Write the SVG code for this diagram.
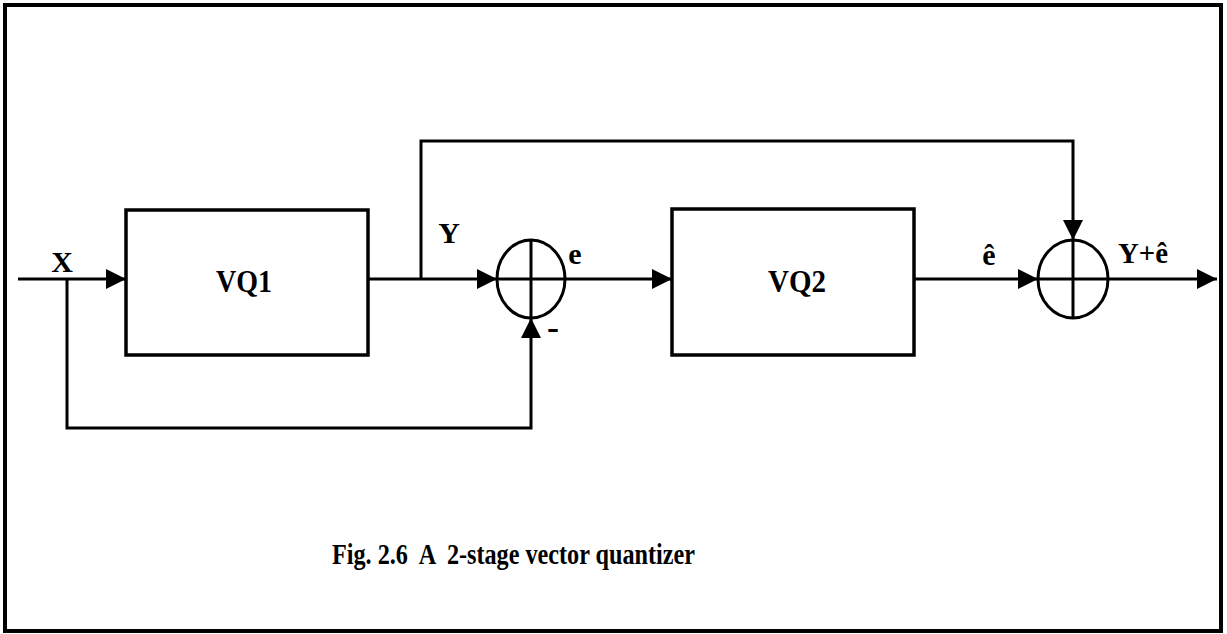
<svg xmlns="http://www.w3.org/2000/svg" width="1227" height="634" viewBox="0 0 1227 634">
<style>
.ln{fill:none;stroke:#000;stroke-width:3;}
.bx{fill:#fff;stroke:#000;stroke-width:3.5;}
.t{font-family:"Liberation Serif","Times New Roman",serif;font-weight:bold;fill:#000;}
</style>
<defs>
<marker id="ah" markerUnits="userSpaceOnUse" markerWidth="22" markerHeight="22" refX="20" refY="10" orient="auto">
<path d="M0,0 L20,10 L0,20 Z" fill="#000"/>
</marker>
</defs>
<rect x="0" y="0" width="1227" height="634" fill="#fff"/>
<rect x="5" y="5" width="1216" height="626" fill="none" stroke="#000" stroke-width="4"/>
<g id="connectors">
<path class="ln" d="M18,279 L126,279" marker-end="url(#ah)"/>
<path class="ln" d="M67,279 L67,428 L531,428 L531,318" marker-end="url(#ah)"/>
<path class="ln" d="M368,279 L497,279" marker-end="url(#ah)"/>
<path class="ln" d="M421,279 L421,141 L1073,141 L1073,240" marker-end="url(#ah)"/>
<path class="ln" d="M565,279 L672,279" marker-end="url(#ah)"/>
<path class="ln" d="M914,279 L1038,279" marker-end="url(#ah)"/>
<path class="ln" d="M1108,279 L1217,279" marker-end="url(#ah)"/>
</g>
<g id="vq1">
<rect class="bx" x="126" y="210" width="242" height="145"/>
<text class="t" x="244" y="292" font-size="31" text-anchor="middle" textLength="56" lengthAdjust="spacingAndGlyphs">VQ1</text>
</g>
<g id="vq2">
<rect class="bx" x="672" y="209" width="242" height="146"/>
<text class="t" x="797" y="292" font-size="31" text-anchor="middle" textLength="58" lengthAdjust="spacingAndGlyphs">VQ2</text>
</g>
<g id="sum1">
<ellipse cx="531" cy="279" rx="34" ry="39" fill="none" stroke="#000" stroke-width="3"/>
<line x1="531" y1="240" x2="531" y2="318" stroke="#000" stroke-width="3"/>
<line x1="497" y1="279" x2="565" y2="279" stroke="#000" stroke-width="3"/>
</g>
<g id="sum2">
<ellipse cx="1073" cy="279" rx="35" ry="39" fill="none" stroke="#000" stroke-width="3"/>
<line x1="1073" y1="240" x2="1073" y2="318" stroke="#000" stroke-width="3"/>
<line x1="1038" y1="279" x2="1108" y2="279" stroke="#000" stroke-width="3"/>
</g>
<g id="labels">
<text class="t" x="62" y="272" font-size="30" text-anchor="middle">X</text>
<text class="t" x="449" y="243" font-size="30" text-anchor="middle">Y</text>
<text class="t" x="575" y="264" font-size="30" text-anchor="middle">e</text>
<text class="t" x="553" y="339" font-size="34" text-anchor="middle" textLength="12" lengthAdjust="spacingAndGlyphs">-</text>
<text class="t" x="989" y="265" font-size="30" text-anchor="middle">ê</text>
<text class="t" x="1118" y="263" font-size="30" textLength="50" lengthAdjust="spacingAndGlyphs">Y+ê</text>
</g>
<text class="t" x="332" y="564" font-size="30" textLength="363" lengthAdjust="spacingAndGlyphs" xml:space="preserve">Fig. 2.6  A  2-stage vector quantizer</text>
</svg>
